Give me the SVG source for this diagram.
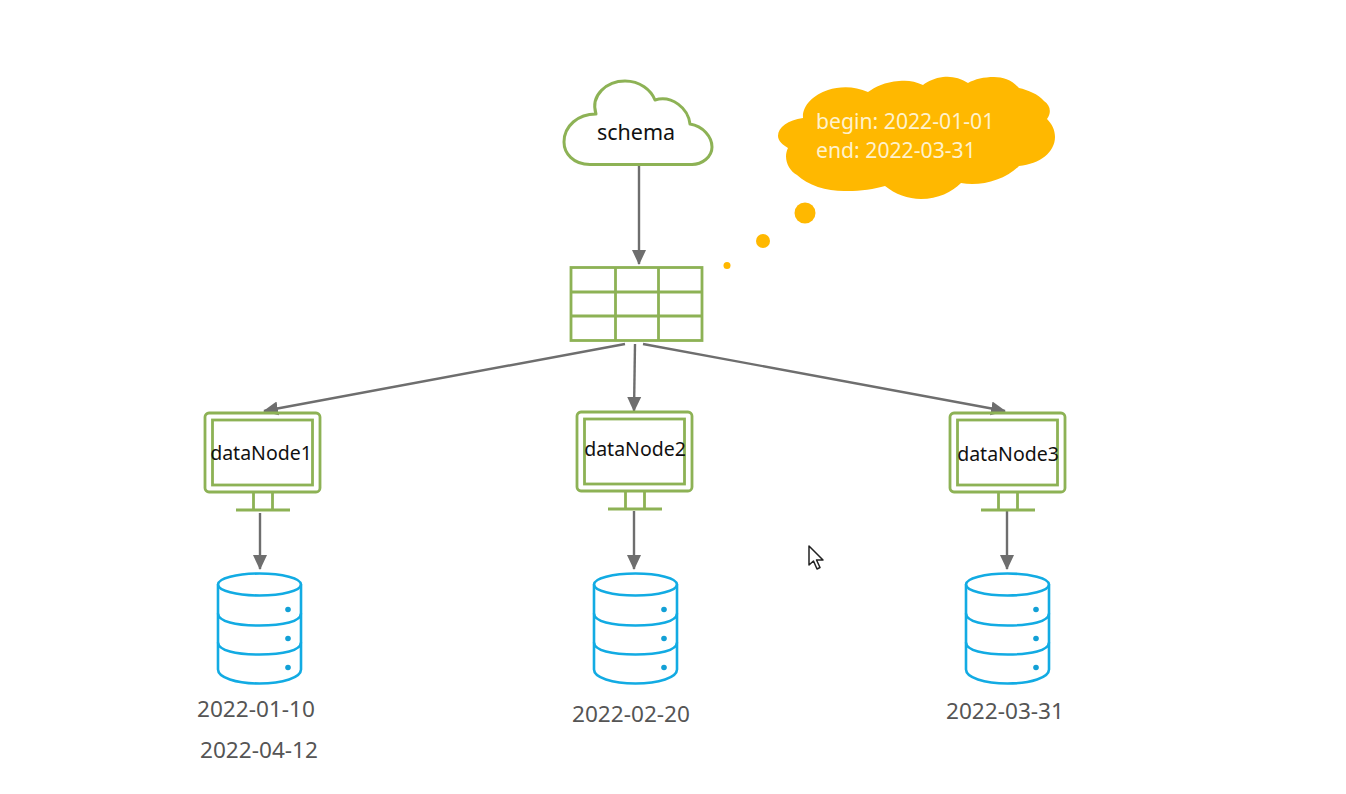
<svg xmlns="http://www.w3.org/2000/svg" width="1346" height="794" viewBox="0 0 1346 794">
<style>
.g{fill:none;stroke:#8DB255;stroke-width:2.800}
.gf{fill:#fff;stroke:#8DB255;stroke-width:3;stroke-linejoin:round}
.t{font-family:"Noto Sans","Open Sans",sans-serif}
.lbl{font-size:19.5px;fill:#111;text-anchor:middle}
.sch{font-size:21.5px;fill:#111;text-anchor:middle}
.date{font-size:22.6px;fill:#555;text-anchor:middle}
.bub{font-size:21.2px;fill:#FFF2CC}
.db{fill:none;stroke:#12ABE3;stroke-width:2.6}
.dot{fill:#12A0D6}
.c{stroke:#6E6E6E;stroke-width:2.4;fill:none;marker-end:url(#a)}
.o{fill:#FFB800}
</style>
<defs>
<marker id="a" markerUnits="userSpaceOnUse" markerWidth="16" markerHeight="16" refX="14" refY="8" orient="auto"><path d="M0 1L15 8L0 15Z" fill="#6E6E6E"/></marker>
<g id="mon">
<rect class="g" x="0" y="0" width="115" height="79" rx="4"/>
<rect class="g" x="7.500" y="7" width="100" height="65"/>
<path class="g" d="M48.500 80V96M67.500 80V96M31 97H85" stroke-width="2.500"/>
</g>
<g id="cyl">
<path class="db" d="M0 12V97C0 105 18 111 41.500 111C65 111 83 105 83 97V12"/>
<ellipse class="db" cx="41.500" cy="12" rx="41.500" ry="11"/>
<path class="db" d="M0 41C0 49 18 53 41.500 53C65 53 83 49 83 41M0 70C0 78 18 82 41.500 82C65 82 83 78 83 70"/>
<circle class="dot" cx="70" cy="37" r="2.800"/><circle class="dot" cx="70" cy="66" r="2.800"/><circle class="dot" cx="70" cy="95" r="2.800"/>
</g>
</defs>
<rect width="1346" height="794" fill="#fff"/>
<g id="connectors">
<line class="c" x1="639" y1="165" x2="639" y2="264"/>
<line class="c" x1="625" y1="344" x2="264" y2="411"/>
<line class="c" x1="635" y1="344" x2="634" y2="411"/>
<line class="c" x1="643" y1="344" x2="1005" y2="411"/>
<line class="c" x1="260" y1="513" x2="260" y2="569"/>
<line class="c" x1="634" y1="511" x2="634" y2="569"/>
<line class="c" x1="1007" y1="511" x2="1007" y2="569"/>
</g>
<g id="schema">
<path class="gf" d="M590 164.500C573 164.500 564 153 564 142C564 126 578 114 596 114C590 95 607 81 625 81C640 81 651 90 655 100C672 95 688 108 690 124C703 126 712 137 712 147C712 157 702 164.500 692 164.500Z"/>
<text class="t sch" x="636" y="140">schema</text>
</g>
<g id="table">
<rect class="g" x="571" y="267.500" width="131" height="73"/>
<path class="g" d="M615.500 268V340M658.500 268V340M571 292H702M571 316H702" stroke-width="2.400"/>
</g>
<g id="thought">
<path class="o" d="M803 118C788 120 778 127 778 136C778 141 783 145 788 148C783 158 788 170 797 175C808 186 830 192 848 191C860 191 875 189 885 186C895 194 908 199 921 199C938 199 952 192 961 183C980 187 1005 180 1019 166C1040 164 1055 152 1055 137C1055 130 1052 124 1047 119C1052 112 1050 105 1044 101C1038 94 1028 90 1019 88C1012 80 1003 77 994 77C984 77 975 79 968 83C960 78 952 76 943 77C935 78 928 81 923 85C915 81 907 80 899 81C885 82 875 87 868 92C855 86 840 86 828 90C813 95 802 106 803 118Z"/>
<text class="t bub" x="816" y="129">begin: 2022-01-01</text>
<text class="t bub" x="816" y="158">end: 2022-03-31</text>
<circle class="o" cx="805" cy="213" r="10.500"/>
<circle class="o" cx="763" cy="241" r="7"/>
<circle class="o" cx="727" cy="265.500" r="3.500"/>
</g>
<g id="dataNode1"><use href="#mon" x="205" y="413"/><text class="t lbl" x="261" y="460">dataNode1</text></g>
<g id="dataNode2"><use href="#mon" x="577" y="412"/><text class="t lbl" x="635" y="456">dataNode2</text></g>
<g id="dataNode3"><use href="#mon" x="950" y="413"/><text class="t lbl" x="1008" y="461">dataNode3</text></g>
<g id="db1"><use href="#cyl" x="218" y="572.500"/><text class="t date" x="256" y="717">2022-01-10</text><text class="t date" x="259" y="758">2022-04-12</text></g>
<g id="db2"><use href="#cyl" x="594" y="572.500"/><text class="t date" x="631" y="722">2022-02-20</text></g>
<g id="db3"><use href="#cyl" x="966" y="572.500"/><text class="t date" x="1005" y="719">2022-03-31</text></g>
<path d="M809 546V565L813.500 561L817 569L820 567.500L816.500 560H823Z" fill="#fff" stroke="#222" stroke-width="1.500" stroke-linejoin="round"/>
</svg>
